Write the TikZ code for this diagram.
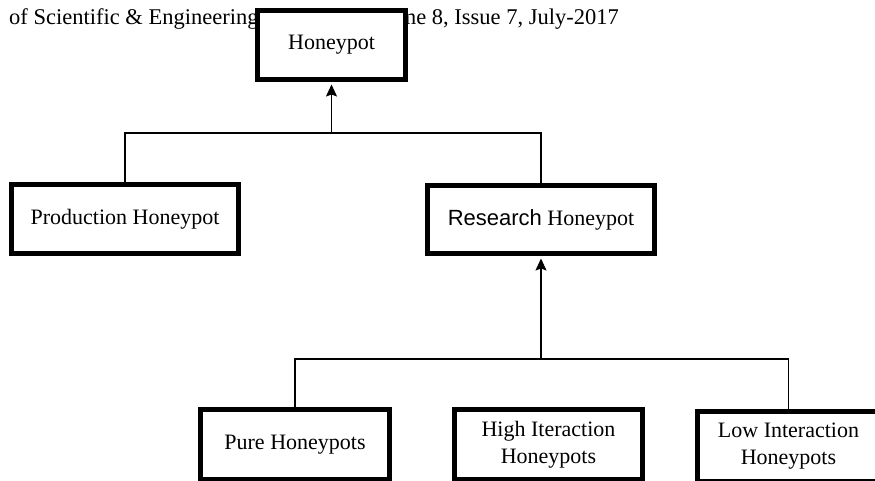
\documentclass[tikz,border=0pt]{standalone}
\usepackage{fontspec}
\setmainfont{Liberation Serif}
\newfontfamily\sansf{Liberation Sans}
\usetikzlibrary{arrows.meta}
\begin{document}
\begin{tikzpicture}[x=1pt,y=-1pt,
  every node/.style={font=\fontsize{22}{27}\selectfont},
  box/.style={draw=black,line width=5pt,fill=white,inner sep=0pt,align=center},
  conn/.style={draw=black,line width=1.2pt},
  arr/.style={conn,-{Stealth[length=12pt,width=11pt,inset=2pt]}},
  hdr/.style={inner sep=0pt,text=black,font=\fontsize{22.5}{27}\selectfont}]
\useasboundingbox (0,0) rectangle (875,481);
\clip (0,0) rectangle (875,481);
% header line, partly covered by the top box
\node[hdr,anchor=base west] (hl) at (9,25) {of Scientific \& Engineering};
\node[hdr,anchor=base east] (hr) at (619,25) {Volume 8, Issue 7, July-2017};
% boxes
\node[box,minimum width=148pt,minimum height=69pt] (hp) at (331.5,45) {Honeypot};
\node[box,minimum width=227pt,minimum height=69pt] (prod) at (125,219) {Production Honeypot};
\node[box,minimum width=227pt,minimum height=68pt] (res) at (541,219.5) {{\sansf Research} Honeypot};
\node[box,minimum width=189pt,minimum height=70pt] (pure) at (295,444.5) {Pure Honeypots};
\node[box,minimum width=188pt,minimum height=70pt] (high) at (548.5,444.5) {High Iteraction\\Honeypots};
\node[box,minimum width=183pt,minimum height=70pt] (low) at (788.5,446.5) {Low Interaction\\Honeypots};
% connectors
\coordinate (j1) at (hp.south |- 0,133);
\coordinate (j2) at (res.south |- 0,359);
\draw[conn] (prod.north) |- (j1) -| (res.north);
\draw[arr] (j1) -- ([yshift=-2.5pt]hp.south);
\draw[conn] (pure.north) |- (j2) -| (low.north);
\draw[arr] (j2) -- ([yshift=-2.5pt]res.south);
\end{tikzpicture}
\end{document}
